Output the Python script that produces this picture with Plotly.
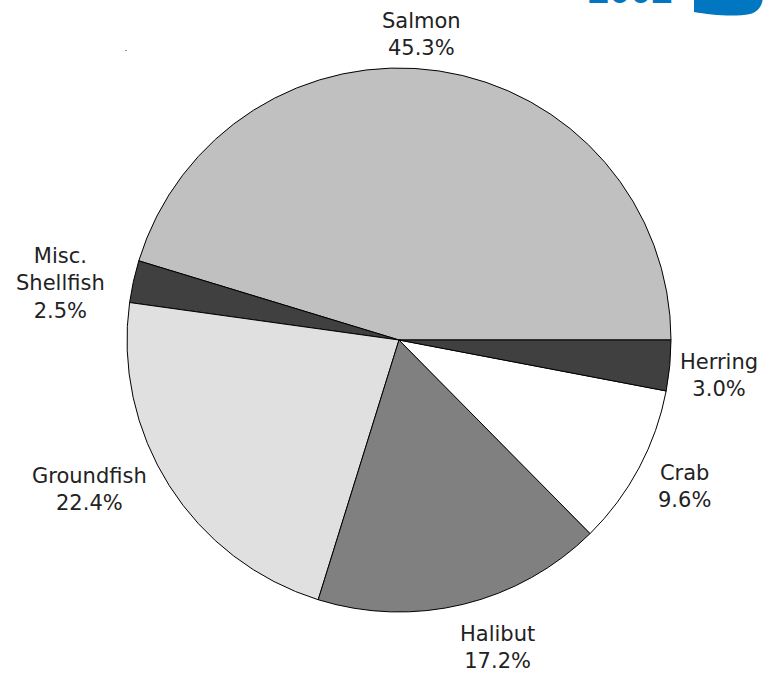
import plotly.graph_objects as go

# Share of catch value by species group
species = ["Salmon", "Misc.<br>Shellfish", "Groundfish", "Halibut", "Crab", "Herring"]
shares = [45.3, 2.5, 22.4, 17.2, 9.6, 3.0]
fills = ["#c0c0c0", "#404040", "#e0e0e0", "#808080", "#ffffff", "#404040"]

# Label anchor points (pixels from top-left) for each species
label_px = [(421, 34), (60, 283), (89, 489), (498, 647), (684, 486), (719, 375)]

W, H = 772, 673
cx, cy, r = 399, 340, 272

# Salmon starts at 3 o'clock and the slices run counterclockwise from there
start_rot = 90 - shares[0] / sum(shares) * 360

fig = go.Figure(go.Pie(
    labels=species,
    values=shares,
    sort=False,
    direction="counterclockwise",
    rotation=start_rot,
    marker=dict(colors=fills, line=dict(color="#000000", width=1)),
    textinfo="none",
    hoverinfo="label+percent",
    showlegend=False,
    domain=dict(x=[(cx - r) / W, (cx + r) / W], y=[1 - (cy + r) / H, 1 - (cy - r) / H]),
))

for name, val, (px, py) in zip(species, shares, label_px):
    fig.add_annotation(
        x=px / W, y=1 - py / H, xref="paper", yref="paper",
        text=f"{name}<br>{val:.1f}%", showarrow=False,
        font=dict(family="DejaVu Sans, Arial, sans-serif", size=21, color="#222222"),
        align="center", xanchor="center", yanchor="middle",
    )

# Year heading, running off the top edge
fig.add_annotation(
    x=630 / W, y=1 - 13 / H, xref="paper", yref="paper",
    text="<b>2002</b>", showarrow=False,
    font=dict(family="Liberation Sans, Arial, sans-serif", size=38, color="#0077c0"),
    xanchor="center", yanchor="bottom",
)

# Blue tab in the top-right corner
def pxp(x, y):
    return f"{x / W:.5f},{1 - y / H:.5f}"

fig.add_shape(
    type="path", xref="paper", yref="paper",
    path=(f"M {pxp(694, -2)} L {pxp(694, 12)} "
          f"C {pxp(710, 15)} {pxp(735, 17)} {pxp(750, 14)} "
          f"C {pxp(758, 12)} {pxp(762, 6)} {pxp(763, -2)} Z"),
    fillcolor="#0077c0", line=dict(width=0),
)

# Small stray mark
fig.add_shape(
    type="rect", xref="paper", yref="paper",
    x0=125 / W, x1=127 / W, y0=1 - 51 / H, y1=1 - 50 / H,
    fillcolor="#999999", line=dict(width=0),
)

fig.update_layout(
    width=W, height=H,
    margin=dict(l=0, r=0, t=0, b=0),
    paper_bgcolor="#ffffff", plot_bgcolor="#ffffff",
)

fig.write_html("out.html")
